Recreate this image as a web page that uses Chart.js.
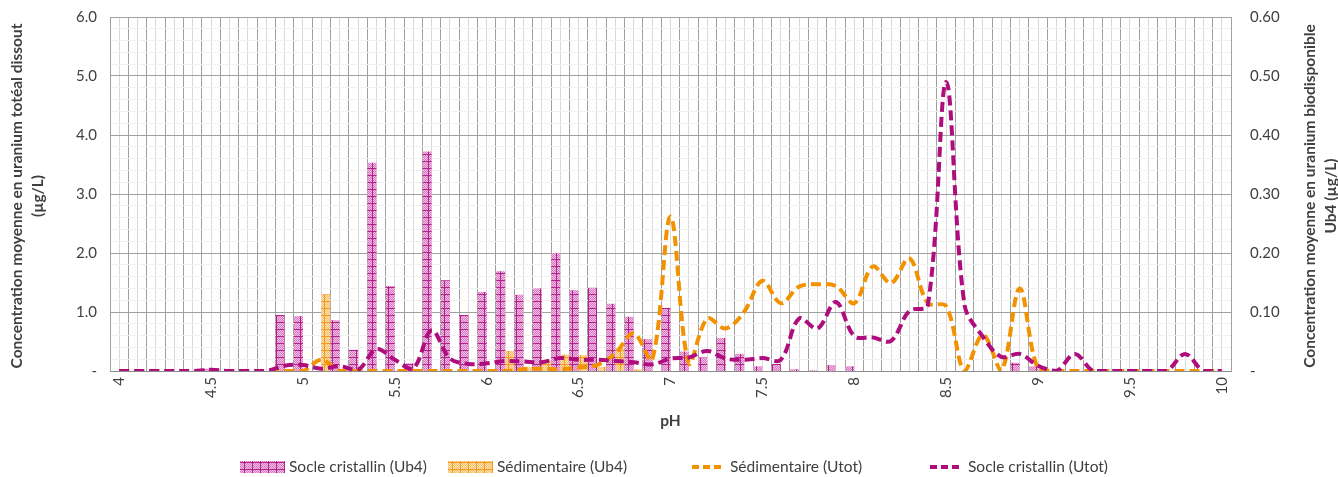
<!DOCTYPE html>
<html>
<head>
<meta charset="utf-8">
<script src="https://cdn.jsdelivr.net/npm/chart.js@4.4.0/dist/chart.umd.min.js"></script>
<style>
  html, body { margin: 0; padding: 0; background: #fff; }
</style>
</head>
<body>
<canvas id="phChart" width="1338" height="477"></canvas>
<script>
// pH categories (one per 0.1 unit)
const phLabels = ['4', '4.1', '4.2', '4.3', '4.4', '4.5', '4.6', '4.7', '4.8', '4.9',
  '5', '5.1', '5.2', '5.3', '5.4', '5.5', '5.6', '5.7', '5.8', '5.9',
  '6', '6.1', '6.2', '6.3', '6.4', '6.5', '6.6', '6.7', '6.8', '6.9',
  '7', '7.1', '7.2', '7.3', '7.4', '7.5', '7.6', '7.7', '7.8', '7.9',
  '8', '8.1', '8.2', '8.3', '8.4', '8.5', '8.6', '8.7', '8.8', '8.9',
  '9', '9.1', '9.2', '9.3', '9.4', '9.5', '9.6', '9.7', '9.8', '9.9', '10'];

// Ub4 (right axis, µg/L)
const socleUb4 = [0, 0, 0, 0, 0, 0.004, 0, 0, 0, 0.095,
  0.093, 0, 0.086, 0.036, 0.353, 0.144, 0.013, 0.372, 0.154, 0.095,
  0.134, 0.169, 0.129, 0.140, 0.200, 0.137, 0.141, 0.114, 0.092, 0.054,
  0.107, 0.033, 0.023, 0.056, 0.029, 0.008, 0.012, 0.003, 0.001, 0.010,
  0.008, 0, 0, 0, 0, 0, 0, 0, 0, 0.014,
  0.008, 0, 0, 0, 0, 0, 0, 0, 0, 0, 0];
const sedimUb4 = [0, 0, 0, 0, 0, 0, 0, 0, 0, 0,
  0, 0.130, 0, 0, 0, 0, 0, 0, 0, 0,
  0, 0.034, 0.007, 0.019, 0.028, 0.027, 0.007, 0.039, 0.003, 0,
  0, 0, 0, 0, 0, 0, 0, 0, 0, 0,
  0, 0, 0, 0, 0, 0, 0, 0, 0, 0,
  0, 0, 0, 0, 0, 0, 0, 0, 0, 0, 0];

// Utot (left axis, µg/L)
const sedimUtot = [0, 0, 0, 0, 0, 0, 0, 0, 0, 0,
  0, 0.19, 0, 0, 0, 0, 0, 0, 0, 0,
  0, 0, 0.03, 0.04, 0.03, 0.06, 0.10, 0.30, 0.64, 0.19,
  2.62, 0.13, 0.89, 0.72, 1.00, 1.53, 1.15, 1.43, 1.47, 1.44,
  1.15, 1.77, 1.49, 1.91, 1.15, 1.10, 0, 0.61, 0, 1.40,
  0.03, 0, 0, 0, 0, 0, 0, 0, 0, 0, 0];
const socleUtot = [0, 0, 0, 0, 0, 0.02, 0, 0, 0, 0.09,
  0.10, 0.04, 0.08, 0.02, 0.37, 0.19, 0.04, 0.69, 0.21, 0.12,
  0.13, 0.17, 0.16, 0.15, 0.22, 0.19, 0.19, 0.17, 0.15, 0.11,
  0.21, 0.23, 0.34, 0.21, 0.19, 0.22, 0.19, 0.89, 0.72, 1.17,
  0.59, 0.57, 0.51, 1.02, 1.11, 4.90, 1.12, 0.58, 0.24, 0.29,
  0.09, 0, 0.29, 0, 0, 0, 0, 0, 0.29, 0, 0];

const PURPLE = '#AF0C7E';
const ORANGE = '#F39200';
const TEXT = '#404040';
const FONT = 'Lato, "Liberation Sans", sans-serif';

Chart.defaults.font.family = FONT;
Chart.defaults.color = TEXT;

const canvas = document.getElementById('phChart');
const ctx = canvas.getContext('2d');

// small tiled "grid" fill like the office pattern fills
function gridPattern(base, dot, line) {
  const t = document.createElement('canvas');
  t.width = 8; t.height = 7;
  const g = t.getContext('2d');
  g.fillStyle = base;
  g.fillRect(0, 0, 8, 7);
  g.fillStyle = dot;
  for (let y = 0; y < 7; y++) {
    for (let x = (y % 2); x < 8; x += 2) g.fillRect(x, y, 1, 1);
  }
  g.fillStyle = line;
  g.fillRect(0, 0, 8, 1);
  g.fillRect(4, 0, 1, 7);
  return ctx.createPattern(t, 'repeat');
}
const purpleFill = gridPattern('#f3c0e5', '#d877bf', '#b3228a');
const orangeFill = gridPattern('#fde2b8', '#f8bf6a', '#f39a1c');

const isInt = v => Math.abs(v - Math.round(v)) < 1e-6;

// pin the plot box: no extra label padding from the scales
const noPad = s => { s.paddingTop = 0; s.paddingBottom = 0; s.paddingLeft = 0; s.paddingRight = 0; };

const legendItems = [
  { label: 'Socle cristallin (Ub4)', kind: 'box', fill: purpleFill, x: 240 },
  { label: 'Sédimentaire (Ub4)', kind: 'box', fill: orangeFill, x: 448 },
  { label: 'Sédimentaire (Utot)', kind: 'line', color: ORANGE, x: 692 },
  { label: 'Socle cristallin (Utot)', kind: 'line', color: PURPLE, x: 930 }
];

const decorations = {
  id: 'decorations',
  afterDraw(chart) {
    const c = chart.ctx;
    const area = chart.chartArea;
    c.save();
    c.fillStyle = TEXT;
    c.textAlign = 'center';
    c.textBaseline = 'middle';
    c.font = 'bold 15.5px ' + FONT;
    const midY = 196;
    // left title
    c.save();
    c.translate(17, midY);
    c.rotate(-Math.PI / 2);
    c.fillText('Concentration moyenne en uranium totéal dissout', 0, 0);
    c.fillText('(µg/L)', 0, 21);
    c.restore();
    // right title
    c.save();
    c.translate(1310, midY);
    c.rotate(-Math.PI / 2);
    c.fillText('Concentration moyenne en uranium biodisponible', 0, 0);
    c.fillText('Ub4 (µg/L)', 0, 21);
    c.restore();
    // x title
    c.fillText('pH', (area.left + area.right) / 2, 421);

    // legend
    const ly = 467;
    c.font = '15.5px ' + FONT;
    c.textAlign = 'left';
    legendItems.forEach(it => {
      let tx;
      if (it.kind === 'box') {
        c.fillStyle = it.fill;
        c.fillRect(it.x, ly - 6, 45, 12);
        tx = it.x + 49;
      } else {
        c.strokeStyle = it.color;
        c.lineWidth = 4;
        c.setLineDash([7, 4]);
        c.beginPath();
        c.moveTo(it.x, ly);
        c.lineTo(it.x + 30, ly);
        c.stroke();
        c.setLineDash([]);
        tx = it.x + 38;
      }
      c.fillStyle = TEXT;
      c.fillText(it.label, tx, ly);
    });
    c.restore();
  }
};

new Chart(ctx, {
  type: 'bar',
  data: {
    labels: phLabels,
    datasets: [
      {
        type: 'line',
        label: 'Socle cristallin (Utot)',
        data: socleUtot,
        yAxisID: 'y',
        borderColor: PURPLE,
        borderWidth: 4,
        borderDash: [10, 5],
        pointRadius: 0,
        tension: 0.35,
        fill: false,
        order: 0
      },
      {
        type: 'line',
        label: 'Sédimentaire (Utot)',
        data: sedimUtot,
        yAxisID: 'y',
        borderColor: ORANGE,
        borderWidth: 4,
        borderDash: [10, 5],
        pointRadius: 0,
        tension: 0.35,
        fill: false,
        order: 1
      },
      {
        label: 'Socle cristallin (Ub4)',
        data: socleUb4,
        yAxisID: 'y1',
        backgroundColor: purpleFill,
        borderWidth: 0,
        categoryPercentage: 0.98,
        barPercentage: 1,
        order: 2
      },
      {
        label: 'Sédimentaire (Ub4)',
        data: sedimUb4,
        yAxisID: 'y1',
        backgroundColor: orangeFill,
        borderWidth: 0,
        categoryPercentage: 0.98,
        barPercentage: 1,
        order: 3
      }
    ]
  },
  options: {
    responsive: false,
    animation: false,
    layout: { padding: { top: 17, left: 0, right: 0, bottom: 0 } },
    plugins: {
      legend: { display: false },
      tooltip: { enabled: false }
    },
    scales: {
      x: {
        offset: true,
        grid: { offset: true, color: '#a0a0a0', drawTicks: false },
        border: { color: '#8c8c8c' },
        ticks: {
          autoSkip: false,
          minRotation: 90,
          maxRotation: 90,
          padding: 6,
          font: { size: 15 },
          callback: function (val, i) { return i % 5 === 0 ? this.getLabelForValue(val) : ''; }
        },
        afterFit: s => { s.height = 106; noPad(s); }
      },
      x2: {
        type: 'category',
        position: 'bottom',
        offset: true,
        grid: { offset: false, color: '#d9d9d9', drawTicks: false },
        border: { display: false },
        ticks: { display: false },
        afterFit: s => { s.height = 0; noPad(s); }
      },
      y: {
        position: 'left',
        min: 0,
        max: 6,
        ticks: {
          stepSize: 0.2,
          autoSkip: false,
          padding: 13,
          font: { size: 15 },
          callback: v => isInt(v) ? (v === 0 ? '-' : v.toFixed(1)) : ''
        },
        grid: {
          drawTicks: false,
          color: c => (c.tick && isInt(c.tick.value)) ? '#a0a0a0' : '#f0f0f0'
        },
        border: { color: '#a0a0a0' },
        afterFit: s => { s.width = 110; noPad(s); }
      },
      y1: {
        position: 'right',
        min: 0,
        max: 0.6,
        ticks: {
          stepSize: 0.1,
          padding: 19,
          font: { size: 15 },
          callback: v => v === 0 ? '-' : v.toFixed(2)
        },
        grid: { display: false, drawTicks: false },
        border: { color: '#a0a0a0' },
        afterFit: s => { s.width = 107; noPad(s); }
      }
    }
  },
  plugins: [decorations]
});
</script>
</body>
</html>
